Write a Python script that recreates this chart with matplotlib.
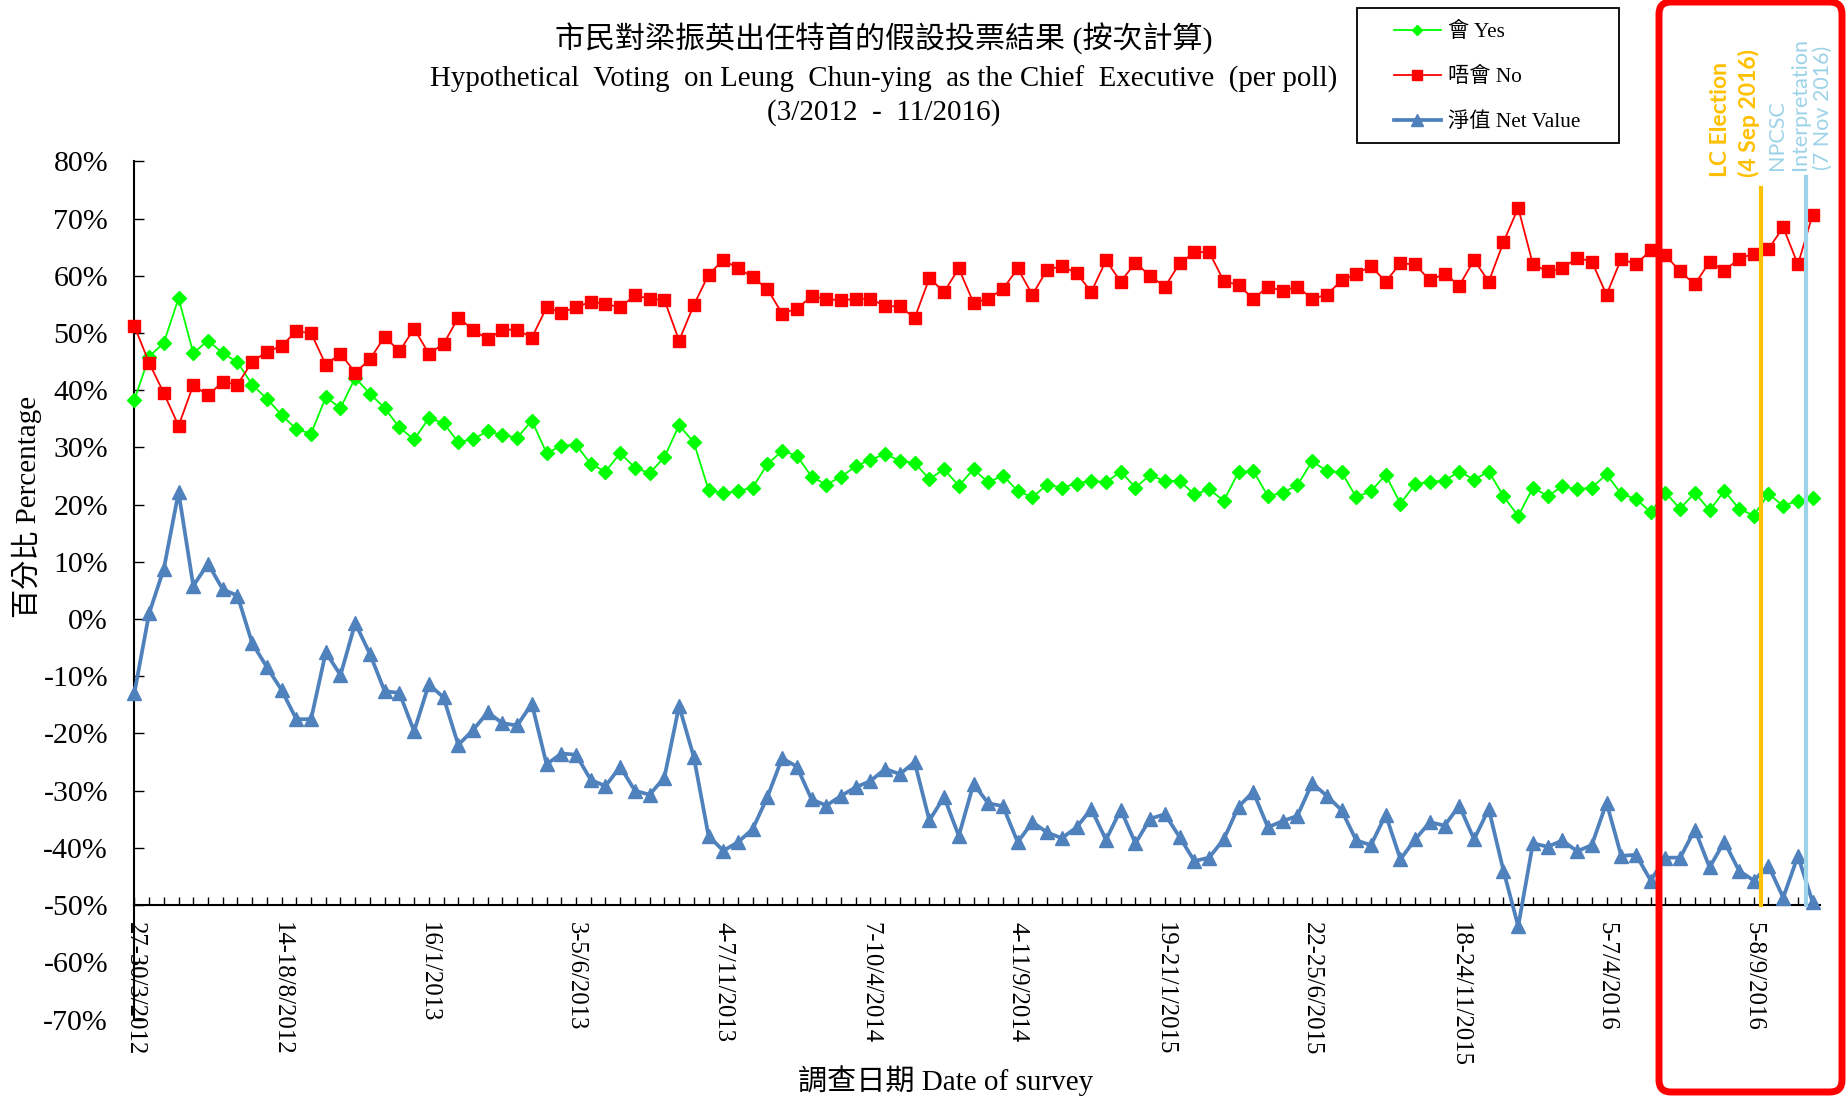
import matplotlib
matplotlib.use('Agg')
import matplotlib.pyplot as plt
from matplotlib.patches import FancyBboxPatch, Rectangle
from matplotlib.transforms import IdentityTransform
from matplotlib.font_manager import FontProperties

# ---------------- data ----------------
yes = [38.3, 45.9, 48.3, 56.1, 46.5, 48.7, 46.5, 44.9, 41.0, 38.5,
       35.7, 33.2, 32.4, 38.8, 36.9, 42.2, 39.4, 36.9, 33.5, 31.4,
       35.1, 34.3, 30.9, 31.5, 32.8, 32.2, 31.7, 34.7, 29.0, 30.3,
       30.5, 27.1, 25.8, 29.0, 26.5, 25.5, 28.3, 33.9, 30.9, 22.6,
       22.0, 22.4, 23.0, 27.1, 29.4, 28.6, 24.9, 23.5, 24.9, 26.7,
       27.9, 28.8, 27.7, 27.3, 24.5, 26.2, 23.3, 26.2, 23.9, 25.1,
       22.4, 21.3, 23.5, 23.0, 23.7, 24.2, 23.9, 25.8, 23.0, 25.2,
       24.1, 24.2, 21.8, 22.7, 20.7, 25.7, 25.9, 21.5, 22.1, 23.4,
       27.6, 25.9, 25.7, 21.3, 22.4, 25.2, 20.2, 23.6, 24.0, 24.2,
       25.8, 24.4, 25.8, 21.5, 18.0, 23.0, 21.5, 23.2, 22.7, 23.0,
       25.3, 21.9, 21.0, 18.7, 22.1, 19.3, 22.1, 19.0, 22.4, 19.3,
       18.1, 21.9, 19.8, 20.7, 21.1]

no = [51.2, 44.8, 39.5, 33.8, 40.9, 39.1, 41.5, 41.0, 45.0, 46.7,
      47.8, 50.3, 50.0, 44.5, 46.4, 43.1, 45.4, 49.4, 46.8, 50.8,
      46.4, 48.1, 52.7, 50.6, 48.9, 50.6, 50.6, 49.2, 54.5, 53.6,
      54.5, 55.5, 55.1, 54.5, 56.6, 56.0, 55.8, 48.7, 54.9, 60.2,
      62.8, 61.3, 59.8, 57.7, 53.4, 54.3, 56.4, 56.0, 55.7, 56.0,
      56.0, 54.7, 54.7, 52.6, 59.6, 57.2, 61.3, 55.3, 56.0, 57.7,
      61.3, 56.7, 61.1, 61.7, 60.5, 57.2, 62.7, 59.0, 62.3, 60.0,
      58.1, 62.2, 64.1, 64.2, 59.1, 58.4, 56.0, 58.1, 57.4, 58.1,
      56.0, 56.7, 59.2, 60.4, 61.7, 59.0, 62.2, 62.0, 59.2, 60.4,
      58.3, 62.8, 59.0, 65.9, 71.9, 62.0, 60.8, 61.3, 63.2, 62.5,
      56.7, 63.0, 62.0, 64.5, 63.6, 60.8, 58.5, 62.5, 60.9, 63.0,
      63.9, 64.7, 68.5, 62.0, 70.7]

net = [-12.9, 1.0, 8.8, 22.2, 5.8, 9.7, 5.2, 4.1, -4.2, -8.4,
       -12.4, -17.5, -17.5, -5.8, -9.8, -0.7, -6.1, -12.6, -12.9, -19.6,
       -11.4, -13.7, -22.0, -19.4, -16.3, -18.2, -18.6, -14.8, -25.4, -23.5,
       -23.7, -28.1, -29.2, -25.8, -30.0, -30.7, -27.7, -15.2, -24.1, -37.9,
       -40.5, -39.0, -36.7, -31.1, -24.3, -25.8, -31.5, -32.6, -30.9, -29.4,
       -28.3, -26.2, -27.1, -25.0, -35.2, -31.1, -37.9, -28.8, -32.2, -32.7,
       -39.0, -35.5, -37.3, -38.3, -36.4, -33.2, -38.6, -33.3, -39.2, -34.9,
       -34.1, -38.1, -42.3, -41.7, -38.5, -32.8, -30.2, -36.4, -35.3, -34.4,
       -28.7, -30.9, -33.4, -38.7, -39.5, -34.2, -42.0, -38.5, -35.5, -36.1,
       -32.6, -38.5, -33.2, -44.0, -53.7, -39.2, -39.8, -38.7, -40.6, -39.5,
       -32.1, -41.4, -41.2, -45.7, -41.7, -41.7, -36.8, -43.4, -38.9, -44.0,
       -45.7, -43.1, -48.7, -41.4, -49.5]

label_idx = [0, 10, 20, 30, 40, 50, 60, 70, 80, 90, 100, 110]
date_labels = ['27-30/3/2012', '14-18/8/2012', '16/1/2013', '3-5/6/2013',
               '4-7/11/2013', '7-10/4/2014', '4-11/9/2014', '19-21/1/2015',
               '22-25/6/2015', '18-24/11/2015', '5-7/4/2016', '5-8/9/2016']

yticks = list(range(-70, 81, 10))
ytick_labels = [f"{v}%" for v in yticks]

series_labels = ['會 Yes', '唔會 No', '淨值 Net Value']

# events (position on poll axis, top of marker line in %)
event_x = [110.52, 113.56]
event_top = [75.3, 77.3]
event_colors = ['#FFC000', '#9DD3E8']

# ---------------- figure ----------------
W, H = 1848, 1099
fig = plt.figure(figsize=(W / 100, H / 100), dpi=100)
fig.patch.set_facecolor('white')

x0, x1 = 134.4, 1820
ytop, ybot = 161.5, 1019.5
ax = fig.add_axes([x0 / W, 1 - ybot / H, (x1 - x0) / W, (ybot - ytop) / H])

serif = ['Liberation Serif', 'Noto Sans CJK TC']
xs = list(range(len(yes)))

l_yes, = ax.plot(xs, yes, color='#00FF00', lw=1.3, marker='D', ms=7,
                 clip_on=False, zorder=3)
l_no, = ax.plot(xs, no, color='#FF0000', lw=1.3, marker='s', ms=9,
                clip_on=False, zorder=4)
l_net, = ax.plot(xs, net, color='#4F81BD', lw=2.7, marker='^', ms=10.5,
                 clip_on=False, zorder=5)

for ex, et, ec in zip(event_x, event_top, event_colors):
    ax.plot([ex, ex], [-50, et], color=ec, lw=3, clip_on=False, zorder=6)

ax.set_xlim(0, 114.5)
ax.set_ylim(-70, 80)

for s in ['top', 'right']:
    ax.spines[s].set_visible(False)
ax.spines['bottom'].set_position(('data', -50))
ax.spines['left'].set_linewidth(1.5)
ax.spines['bottom'].set_linewidth(1.5)

xt_labels = ['' for _ in xs]
for i, lab in zip(label_idx, date_labels):
    xt_labels[i] = lab
ax.set_xticks(xs)
ax.set_xticklabels(xt_labels, rotation=-90, fontsize=17.8, family='Liberation Serif')
ax.tick_params(axis='x', direction='in', length=6, width=1, pad=12)

ax.set_yticks(yticks)
ax.set_yticklabels(ytick_labels, fontsize=21.5, family='Liberation Serif')
ax.tick_params(axis='y', direction='in', length=7.5, width=1, pad=19)

# titles
fig.text(884 / W, 1 - 39 / H, '市民對梁振英出任特首的假設投票結果 (按次計算)',
         ha='center', va='center', family=serif, fontsize=21.6)
fig.text(884 / W, 1 - 79 / H,
         'Hypothetical  Voting  on Leung  Chun-ying  as the Chief  Executive  (per poll)',
         ha='center', va='center', family=serif, fontsize=20.8)
fig.text(884 / W, 1 - 113 / H, '(3/2012  -  11/2016)',
         ha='center', va='center', family=serif, fontsize=21)

# axis labels
fig.text(27 / W, 1 - 507 / H, '百分比 Percentage', rotation=90,
         ha='center', va='center', family=serif, fontsize=21)
fig.text(946 / W, 1 - 1081 / H, '調查日期 Date of survey',
         ha='center', va='center', family=serif, fontsize=21)

# legend
fig.add_artist(Rectangle((1357, H - 143), 262, 135, transform=IdentityTransform(),
                         fill=False, ec='black', lw=1.3, zorder=10))
fig.legend([l_yes, l_no, l_net], series_labels, loc='center left',
           bbox_to_anchor=(1394 / W, 1 - 77 / H), frameon=False,
           prop=FontProperties(family=serif, size=15.3), handlelength=2.2,
           handletextpad=0.35, labelspacing=1.17, borderpad=0,
           borderaxespad=0, markerscale=0.8)

# event annotations
fig.text(1735 / W, 1 - 177 / H, 'LC Election\n(4 Sep 2016)', rotation=90,
         ha='center', va='bottom', multialignment='left', color='#FFC000',
         fontweight='bold', family='Lato', fontsize=16.5, linespacing=1.35)
fig.text(1800 / W, 1 - 170 / H, 'NPCSC\nInterpretation\n(7 Nov 2016)', rotation=90,
         ha='center', va='bottom', multialignment='left', color='#9DD3E8',
         family='Lato', fontsize=15.5, linespacing=1.2)

# red highlight frame
fig.add_artist(FancyBboxPatch((1659, 7), 183, 1090,
                              boxstyle='round,pad=0,rounding_size=12',
                              transform=IdentityTransform(), fill=False,
                              ec='#FF0000', lw=5, zorder=20))

fig.savefig('out.png', dpi=100)
